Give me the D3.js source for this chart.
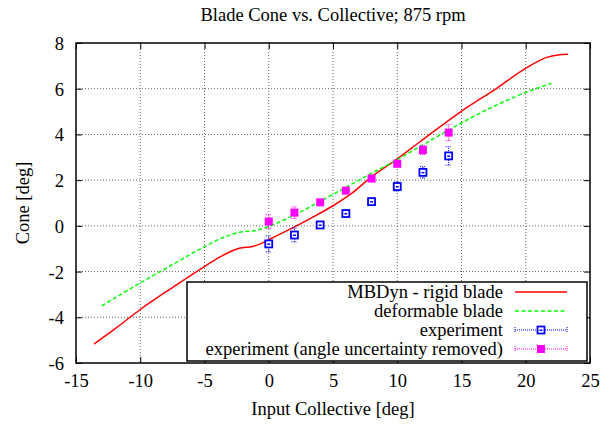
<!DOCTYPE html>
<html><head><meta charset="utf-8">
<script src="https://cdn.jsdelivr.net/npm/d3@7/dist/d3.min.js"></script>
<style>body{margin:0;background:#fff}svg{display:block}text{font-family:"Liberation Serif","Times New Roman",serif;fill:#000}</style>
</head><body><svg id="c" width="610" height="427"></svg>
<script>
const title = "Blade Cone vs. Collective; 875 rpm";
const xLabel = "Input Collective [deg]";
const yLabel = "Cone [deg]";
const xTicks = [-15,-10,-5,0,5,10,15,20,25];
const yTicks = [-6,-4,-2,0,2,4,6,8];
const rigidX = [-13.6,-12,-10,-7.5,-5,-3.5,-2.3,-1.25,-0.7,0,0.6,1.9,3.5,5,6.5,7.9,9.95,11.77,14.96,17.74,20.02,21.63,22.5,23.3];
const rigidY = [-5.17,-4.52,-3.66,-2.7,-1.78,-1.27,-0.98,-0.9,-0.8,-0.6,-0.44,-0.08,0.4,0.88,1.44,2.1,2.91,3.68,5.0,6.02,6.9,7.37,7.48,7.51];
const defX = [-13,-10,-7.5,-5,-3.5,-2.3,-1,0,0.6,1.9,5,7.9,9.95,11.77,14.96,17.74,20.02,22.0];
const defY = [-3.5,-2.5,-1.7,-0.91,-0.5,-0.28,-0.2,-0.03,0.11,0.45,1.38,2.27,2.88,3.47,4.49,5.29,5.84,6.24];
const expX = [0,2,4,6,8,10,12,14];
const expY = [-0.79,-0.4,0.04,0.54,1.06,1.72,2.34,3.06];
const expErr = [0.35,0.3,0.15,0.15,0.15,0.2,0.25,0.4];
const corrY = [0.19,0.58,1.03,1.54,2.07,2.72,3.32,4.08];
const corrErr = [0.3,0.25,0.12,0.12,0.12,0.15,0.2,0.35];
const legendLabels = ["MBDyn - rigid blade","deformable blade","experiment","experiment (angle uncertainty removed)"];

const FS = "18.5px";
const svg = d3.select("#c");
const L=76,R=590,T=43,B=363;
const x = d3.scaleLinear().domain([-15,25]).range([L,R]);
const y = d3.scaleLinear().domain([-6,8]).range([B,T]);
const fmt = d => String(d);

// grid
const g = svg.append("g");
g.selectAll(".gx").data(xTicks.slice(1,-1)).join("line")
 .attr("x1",d=>x(d)).attr("x2",d=>x(d)).attr("y1",T).attr("y2",B)
 .attr("stroke","#666").attr("stroke-width",1).attr("stroke-dasharray","1,2");
g.selectAll(".gy").data(yTicks.slice(1,-1)).join("line")
 .attr("x1",L).attr("x2",R).attr("y1",d=>y(d)).attr("y2",d=>y(d))
 .attr("stroke","#666").attr("stroke-width",1).attr("stroke-dasharray","1,2");

// axes (ticks inward, mirrored)
const ax = svg.append("g").attr("transform",`translate(0,${B})`).call(d3.axisBottom(x).tickValues(xTicks).tickSize(-6).tickPadding(11).tickFormat(fmt));
const axT = svg.append("g").attr("transform",`translate(0,${T})`).call(d3.axisTop(x).tickValues(xTicks).tickSize(-6).tickFormat(""));
const ay = svg.append("g").attr("transform",`translate(${L},0)`).call(d3.axisLeft(y).tickValues(yTicks).tickSize(-6).tickPadding(12).tickFormat(fmt));
const ayR = svg.append("g").attr("transform",`translate(${R},0)`).call(d3.axisRight(y).tickValues(yTicks).tickSize(-6).tickFormat(""));
[ax,axT,ay,ayR].forEach(a=>{a.select(".domain").remove();a.selectAll("line").attr("stroke","#000").attr("stroke-width",1);a.selectAll("text").style("font-size",FS).style("font-family",'"Liberation Serif",serif').attr("fill","#000");});
ay.selectAll("text").attr("dy","0.35em");

// curves
const line = d3.line().x(d=>x(d[0])).y(d=>y(d[1])).curve(d3.curveMonotoneX);
const plot = svg.append("g");
plot.append("path").datum(rigidX.map((v,i)=>[v,rigidY[i]])).attr("d",line)
 .attr("fill","none").attr("stroke","#ff0000").attr("stroke-width",1.5);
plot.append("path").datum(defX.map((v,i)=>[v,defY[i]])).attr("d",line)
 .attr("fill","none").attr("stroke","#00ff00").attr("stroke-width",1.5).attr("stroke-dasharray","4,2.5");

function errbars(ys, errs, color){
  const eg = plot.append("g");
  expX.forEach((xv,i)=>{
    const cx=x(xv), y0=y(ys[i]-errs[i]), y1=y(ys[i]+errs[i]);
    eg.append("line").attr("x1",cx).attr("x2",cx).attr("y1",y0).attr("y2",y1).attr("stroke",color).attr("stroke-width",1).attr("stroke-dasharray","1,1");
    [y0,y1].forEach(yy=>eg.append("line").attr("x1",cx-3).attr("x2",cx+3).attr("y1",yy).attr("y2",yy).attr("stroke",color).attr("stroke-width",1).attr("stroke-dasharray","1,1"));
  });
}
errbars(expY, expErr, "#0000ff");
errbars(corrY, corrErr, "#ff00ff");
plot.selectAll(".bp").data(expX.map((v,i)=>[v,expY[i]])).join("rect")
 .attr("x",d=>x(d[0])-3.5).attr("y",d=>y(d[1])-3.5).attr("width",7).attr("height",7)
 .attr("fill","#fff").attr("stroke","#0000ff").attr("stroke-width",1.8);
plot.selectAll(".bd").data(expX.map((v,i)=>[v,expY[i]])).join("rect")
 .attr("x",d=>x(d[0])-1.5).attr("y",d=>y(d[1])-0.5).attr("width",3).attr("height",1.5)
 .attr("fill","#0000ff");
plot.selectAll(".mp").data(expX.map((v,i)=>[v,corrY[i]])).join("rect")
 .attr("x",d=>x(d[0])-4).attr("y",d=>y(d[1])-4).attr("width",8).attr("height",8)
 .attr("fill","#ff00ff");

// legend
const lg = svg.append("g");
lg.append("rect").attr("x",187).attr("y",282).attr("width",400).attr("height",79).attr("fill","#fff").attr("stroke","#000").attr("stroke-width",1.5);
const rowY = [292,311,330,349];
legendLabels.forEach((t,i)=>{
  lg.append("text").attr("x",503).attr("y",rowY[i]).attr("dy","0.35em").attr("text-anchor","end").style("font-size",FS).text(t);
});
const sx0=515, sx1=567;
lg.append("line").attr("x1",sx0).attr("x2",sx1).attr("y1",rowY[0]).attr("y2",rowY[0]).attr("stroke","#ff0000").attr("stroke-width",1.5);
lg.append("line").attr("x1",sx0).attr("x2",sx1).attr("y1",rowY[1]).attr("y2",rowY[1]).attr("stroke","#00ff00").attr("stroke-width",1.5).attr("stroke-dasharray","4,2.5");
[["#0000ff",2],["#ff00ff",3]].forEach(([c,i])=>{
  const yy=rowY[i];
  lg.append("line").attr("x1",sx0).attr("x2",sx1).attr("y1",yy).attr("y2",yy).attr("stroke",c).attr("stroke-width",1).attr("stroke-dasharray","1,1");
  [sx0,sx1].forEach(xx=>lg.append("line").attr("x1",xx).attr("x2",xx).attr("y1",yy-3).attr("y2",yy+3).attr("stroke",c).attr("stroke-width",1).attr("stroke-dasharray","1,1"));
});
const mx=(sx0+sx1)/2;
lg.append("rect").attr("x",mx-3.5).attr("y",rowY[2]-3.5).attr("width",7).attr("height",7).attr("fill","#fff").attr("stroke","#0000ff").attr("stroke-width",1.8);
lg.append("rect").attr("x",mx-1.5).attr("y",rowY[2]-0.5).attr("width",3).attr("height",1.5).attr("fill","#0000ff");
lg.append("rect").attr("x",mx-4).attr("y",rowY[3]-4).attr("width",8).attr("height",8).attr("fill","#ff00ff");

// frame
svg.append("rect").attr("x",L).attr("y",T).attr("width",R-L).attr("height",B-T).attr("fill","none").attr("stroke","#000").attr("stroke-width",1.5);

// titles
svg.append("text").attr("x",333).attr("y",21).attr("text-anchor","middle").style("font-size",FS).text(title);
svg.append("text").attr("x",333).attr("y",415).attr("text-anchor","middle").style("font-size",FS).text(xLabel);
svg.append("text").attr("transform","translate(29,203) rotate(-90)").attr("text-anchor","middle").style("font-size",FS).text(yLabel);
</script></body></html>
